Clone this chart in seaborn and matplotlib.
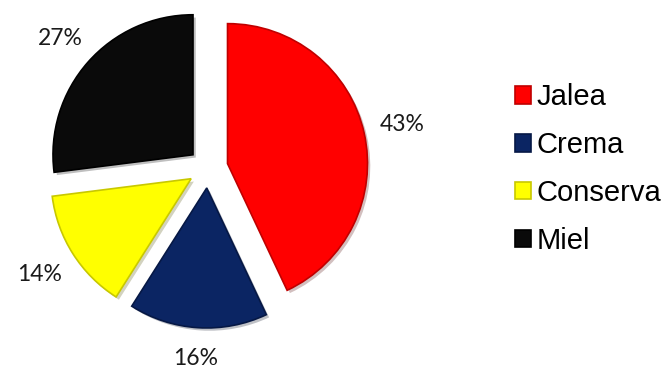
import numpy as np
import matplotlib
matplotlib.use("Agg")
import matplotlib.pyplot as plt
import matplotlib.patheffects as pe
import seaborn as sns

categories = ["Jalea", "Crema", "Conserva", "Miel"]
values = [43, 16, 14, 27]
colors = ["#FF0000", "#0B2563", "#FFFF00", "#0A0A0A"]
edge_colors = ["#C00000", "#061845", "#C8C800", "#000000"]

sns.set_theme(style="white")
plt.rcParams["font.family"] = ["Liberation Sans", "DejaVu Sans"]

W, H = 665, 369
fig = plt.figure(figsize=(W / 100, H / 100), dpi=100)
ax = fig.add_axes([0, 0, 1, 1])

cx, cy, r = 208, H - 168, 140
explode = [20] * len(values)  # data units (pixels)

wedges, texts, autotexts = ax.pie(
    values, colors=colors, explode=explode, startangle=90, counterclock=False,
    center=(cx, cy), radius=r, autopct="%1.0f%%", pctdistance=1.27,
    frame=False, wedgeprops=dict(linewidth=1.2),
    textprops=dict(fontsize=16.5, family=["Lato", "DejaVu Sans"], color="#1a1a1a"),
)
for w, ec in zip(wedges, edge_colors):
    w.set_edgecolor(ec)
    w.set_path_effects([pe.SimplePatchShadow(offset=(2, -2), alpha=0.25), pe.Normal()])

# per-label distance adjustments (fraction of radius from exploded wedge apex)
dists = [1.28, 1.22, 1.28, 1.26]
for w, t, d in zip(wedges, autotexts, dists):
    ang = np.deg2rad((w.theta1 + w.theta2) / 2)
    ccx, ccy = w.center
    t.set_position((ccx + d * r * np.cos(ang), ccy + d * r * np.sin(ang)))

ax.set_xlim(0, W)
ax.set_ylim(0, H)
ax.set_aspect("equal")
ax.axis("off")

leg = fig.legend(
    wedges, categories, loc="center left", bbox_to_anchor=(515 / W, 1 - 169 / H),
    frameon=False, fontsize=21, handlelength=0.55, handleheight=0.55,
    handletextpad=0.2, labelspacing=0.68, borderpad=0, borderaxespad=0,
    labelcolor="black",
)
for h in leg.legend_handles:
    h.set_path_effects([])

fig.savefig("out.png", dpi=100)
